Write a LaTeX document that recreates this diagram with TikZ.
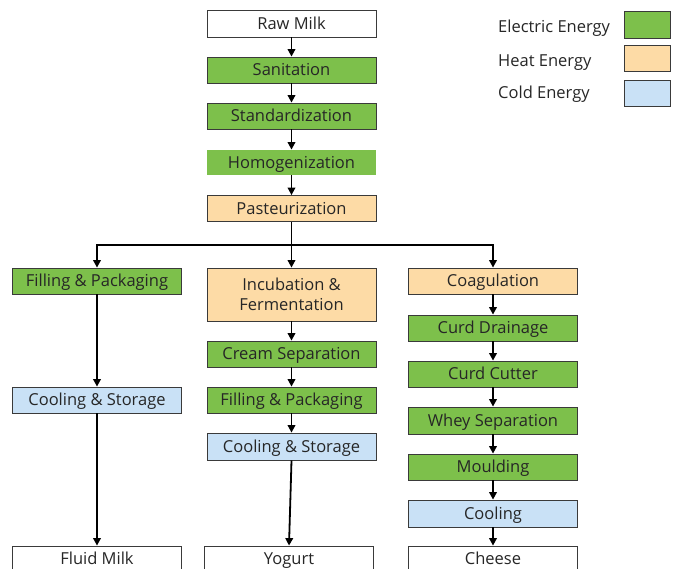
\documentclass[tikz,border=0pt]{standalone}
\usepackage{fontspec}
\setmainfont{Open Sans}
\usetikzlibrary{arrows.meta}
\definecolor{elec}{HTML}{7DC04B}
\definecolor{heat}{HTML}{FDDBA6}
\definecolor{cold}{HTML}{C9E1F6}
\definecolor{edge}{HTML}{3A3A3A}
\tikzset{
  stage/.style={draw=edge, line width=0.8pt, minimum width=169pt, minimum height=26pt,
    inner sep=0pt, align=center, text=black!85, text height=14pt, text depth=3pt,
    font=\fontsize{16.5}{20}\selectfont},
  electric/.style={stage, fill=elec},
  heatbox/.style={stage, fill=heat},
  coldbox/.style={stage, fill=cold},
  product/.style={stage, fill=white},
  flow/.style={line width=1.8pt, -{Triangle[length=7.5pt,width=7.5pt]}},
  keybox/.style={draw=edge, line width=0.8pt, minimum width=46pt, minimum height=26pt, inner sep=0pt},
  keytext/.style={anchor=west, inner sep=0pt, text=black!85, text height=14pt, text depth=3pt,
    font=\fontsize{16.5}{20}\selectfont}
}
\begin{document}
\begin{tikzpicture}[x=1pt, y=-1pt]
\useasboundingbox (0,0) rectangle (676,568);
\clip (0,0) rectangle (676,568);

% main line
\node[product] (raw) at (291.5,23.5) [minimum height=27pt] {Raw Milk};
\node[electric] (san) at (291.5,70) {Sanitation};
\node[electric] (std) at (291.5,116) {Standardization};
\node[electric, draw=none] (hom) at (291.5,162.5) [minimum height=25pt] {Homogenization};
\node[heatbox] (pas) at (291.5,208.5) {Pasteurization};
\coordinate (bus) at (291.5,245);

% fluid milk branch
\node[electric] (fp1) at (97,281) {Filling \& Packaging};
\node[coldbox] (cs1) at (97,400) {Cooling \& Storage};
\node[product] (fm) at (97,559) {Fluid Milk};

% yogurt branch
\node[heatbox, text height=, text depth=] (inc) at (291.5,294.5) [minimum height=53pt] {Incubation \&\\Fermentation};
\node[electric] (crs) at (291.5,354) {Cream Separation};
\node[electric] (fp2) at (291.5,400) {Filling \& Packaging};
\node[coldbox] (cs2) at (291.5,446.5) [minimum height=27pt] {Cooling \& Storage};
\node[product] (yog) at (289,559) {Yogurt};

% cheese branch
\node[heatbox] (coa) at (493,281) {Coagulation};
\node[electric] (cdr) at (493,328) {Curd Drainage};
\node[electric] (ccu) at (493,374) {Curd Cutter};
\node[electric] (why) at (493,420.5) [minimum height=27pt] {Whey Separation};
\node[electric] (mou) at (493,467) {Moulding};
\node[coldbox] (coo) at (493,513.5) [minimum height=27pt] {Cooling};
\node[product] (che) at (493,559) {Cheese};

% connectors
\draw[flow] (raw) -- (san);
\draw[flow] (san) -- (std);
\draw[flow] (std) -- (hom);
\draw[flow] (hom) -- (pas);
\draw[flow] (pas) -- (inc);
\draw[flow] (bus) -| (fp1.north);
\draw[flow] (bus) -| (coa.north);
\draw[flow] (fp1) -- (cs1);
\draw[flow] (cs1) -- (fm);
\draw[flow] (inc) -- (crs);
\draw[flow] (crs) -- (fp2);
\draw[flow] (fp2) -- (cs2);
\draw[flow] (cs2.south) -- (yog.north);
\draw[flow] (coa) -- (cdr);
\draw[flow] (cdr) -- (ccu);
\draw[flow] (ccu) -- (why);
\draw[flow] (why) -- (mou);
\draw[flow] (mou) -- (coo);
\draw[flow] (coo) -- (che);

% legend
\node[keybox, fill=elec] (kE) at (647,24.5) [minimum height=27pt] {};
\node[keybox, fill=heat] (kH) at (647,58) {};
\node[keybox, fill=cold] (kC) at (647,93) {};
\node[keytext] (tE) at (498,26.5) {Electric Energy};
\node[keytext] (tH) at (498,60.5) {Heat Energy};
\node[keytext] (tC) at (498,92.5) {Cold Energy};
\end{tikzpicture}
\end{document}
